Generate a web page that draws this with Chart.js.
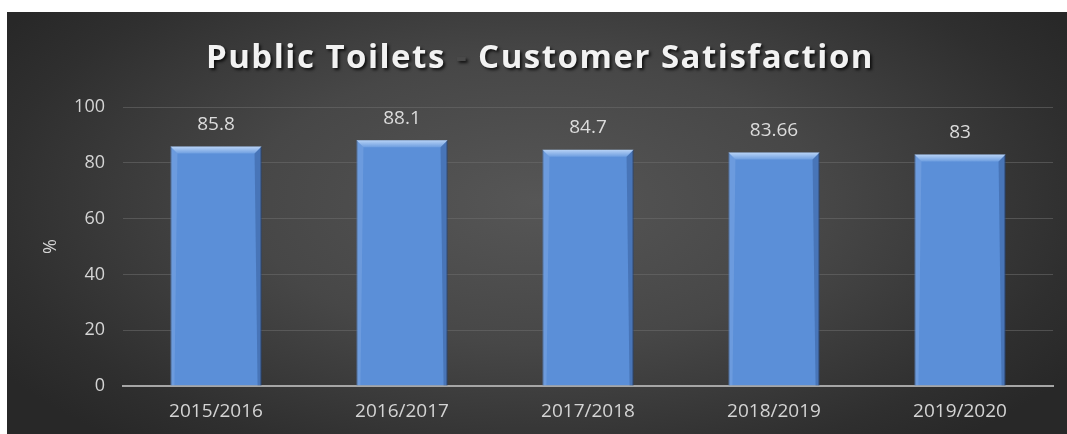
<!DOCTYPE html>
<html>
<head>
<meta charset="utf-8">
<script src="https://cdn.jsdelivr.net/npm/chart.js@4/dist/chart.umd.min.js"></script>
<style>
  html, body { margin: 0; padding: 0; background: #ffffff; }
  #frame {
    position: absolute; left: 7px; top: 12px; width: 1060px; height: 422px;
    background: radial-gradient(ellipse 60% 75% at 50% 45%, #565656 0%, #474747 45%, #2f2f2f 85%, #282828 100%);
  }
  canvas { display: block; }
</style>
</head>
<body>
<div id="frame"><canvas id="c" width="1060" height="422"></canvas></div>
<script>
// Yearly satisfaction scores for public toilets
const years = ['2015/2016', '2016/2017', '2017/2018', '2018/2019', '2019/2020'];
const satisfaction = [85.8, 88.1, 84.7, 83.66, 83];
const yTicks = [0, 20, 40, 60, 80, 100];
const titleParts = ['Public Toilets', ' - ', 'Customer Satisfaction'];

const FONT = '"Open Sans", "Liberation Sans", sans-serif';

// Title drawn in three pieces so the dash can be toned down
const titlePlugin = {
  id: 'titlePieces',
  afterDraw(chart) {
    const ctx = chart.ctx;
    ctx.save();
    ctx.font = 'bold 33px ' + FONT;
    if ('letterSpacing' in ctx) ctx.letterSpacing = '1.5px';
    ctx.textBaseline = 'alphabetic';
    const widths = titleParts.map(t => ctx.measureText(t).width);
    const total = widths.reduce((a, b) => a + b, 0);
    let x = chart.width / 2 - total / 2 + 3;
    const y = 56;
    const colors = ['#f2f2f2', '#4a4a4a', '#f2f2f2'];
    titleParts.forEach((t, i) => {
      ctx.shadowColor = 'rgba(0,0,0,0.75)';
      ctx.shadowOffsetX = 2;
      ctx.shadowOffsetY = 2;
      ctx.shadowBlur = 3;
      ctx.fillStyle = colors[i];
      ctx.fillText(t, x, y);
      x += widths[i];
    });
    ctx.restore();
  }
};

// Bevel highlight along each bar top plus the value label above it
const barDecor = {
  id: 'barDecor',
  afterDatasetsDraw(chart) {
    const ctx = chart.ctx;
    const meta = chart.getDatasetMeta(0);
    ctx.save();
    meta.data.forEach((bar, i) => {
      const l = bar.x - bar.width / 2, r = bar.x + bar.width / 2, t = bar.y, b = bar.base;
      // top bevel
      const g = ctx.createLinearGradient(0, t, 0, t + 7);
      g.addColorStop(0, '#b8d3f6');
      g.addColorStop(1, '#6e9ee0');
      ctx.fillStyle = g;
      ctx.beginPath();
      ctx.moveTo(l, t); ctx.lineTo(r, t); ctx.lineTo(r - 7, t + 7); ctx.lineTo(l + 7, t + 7); ctx.closePath();
      ctx.fill();
      // side edges
      ctx.fillStyle = 'rgba(150,185,235,0.3)';
      ctx.beginPath();
      ctx.moveTo(l, t); ctx.lineTo(l + 7, t + 7); ctx.lineTo(l + 4, b); ctx.lineTo(l, b); ctx.closePath();
      ctx.fill();
      ctx.fillStyle = 'rgba(30,60,110,0.3)';
      ctx.beginPath();
      ctx.moveTo(r, t); ctx.lineTo(r - 7, t + 7); ctx.lineTo(r - 4, b); ctx.lineTo(r, b); ctx.closePath();
      ctx.fill();
      // value label
      ctx.font = '19px ' + FONT;
      ctx.fillStyle = '#dcdcdc';
      ctx.textAlign = 'center';
      ctx.textBaseline = 'middle';
      ctx.fillText(String(satisfaction[i]), bar.x, t - 22);
    });
    ctx.restore();
  }
};

function barFill(context) {
  const chart = context.chart;
  const area = chart.chartArea;
  if (!area) return '#5b8fd8';
  const el = context.element;
  if (!el || el.width === undefined) return '#5b8fd8';
  const l = el.x - el.width / 2, r = el.x + el.width / 2;
  const g = chart.ctx.createLinearGradient(l, 0, r, 0);
  g.addColorStop(0, '#5087d2');
  g.addColorStop(0.15, '#5b91dc');
  g.addColorStop(0.85, '#5a90da');
  g.addColorStop(1, '#4374bc');
  return g;
}

new Chart(document.getElementById('c'), {
  type: 'bar',
  data: {
    labels: years,
    datasets: [{
      data: satisfaction,
      backgroundColor: barFill,
      borderColor: '#2c4f86',
      borderWidth: 1,
      categoryPercentage: 1,
      barPercentage: 0.49
    }]
  },
  options: {
    responsive: false,
    animation: false,
    events: [],
    layout: { padding: { top: 95, right: 14, bottom: 0, left: 0 } },
    plugins: { legend: { display: false }, tooltip: { enabled: false }, title: { display: false } },
    scales: {
      y: {
        min: 0, max: 100,
        afterBuildTicks(scale) { scale.ticks = yTicks.map(v => ({ value: v })); },
        afterFit(scale) { scale.width = 116; },
        ticks: { color: '#d4d4d4', font: { family: FONT, size: 18 }, padding: 18 },
        grid: { color: 'rgba(110,110,110,0.55)', lineWidth: 1, drawTicks: false },
        border: { display: false },
        title: { display: true, text: '%', color: '#d4d4d4', font: { family: FONT, size: 18 }, padding: { top: 33, bottom: 0 } }
      },
      x: {
        afterFit(scale) { scale.height = 48; },
        ticks: { color: '#d4d4d4', font: { family: FONT, size: 19 }, padding: 14 },
        grid: { display: false, drawTicks: false },
        border: { display: true, color: '#a6a6a6', width: 2 }
      }
    }
  },
  plugins: [titlePlugin, barDecor]
});
</script>
</body>
</html>
